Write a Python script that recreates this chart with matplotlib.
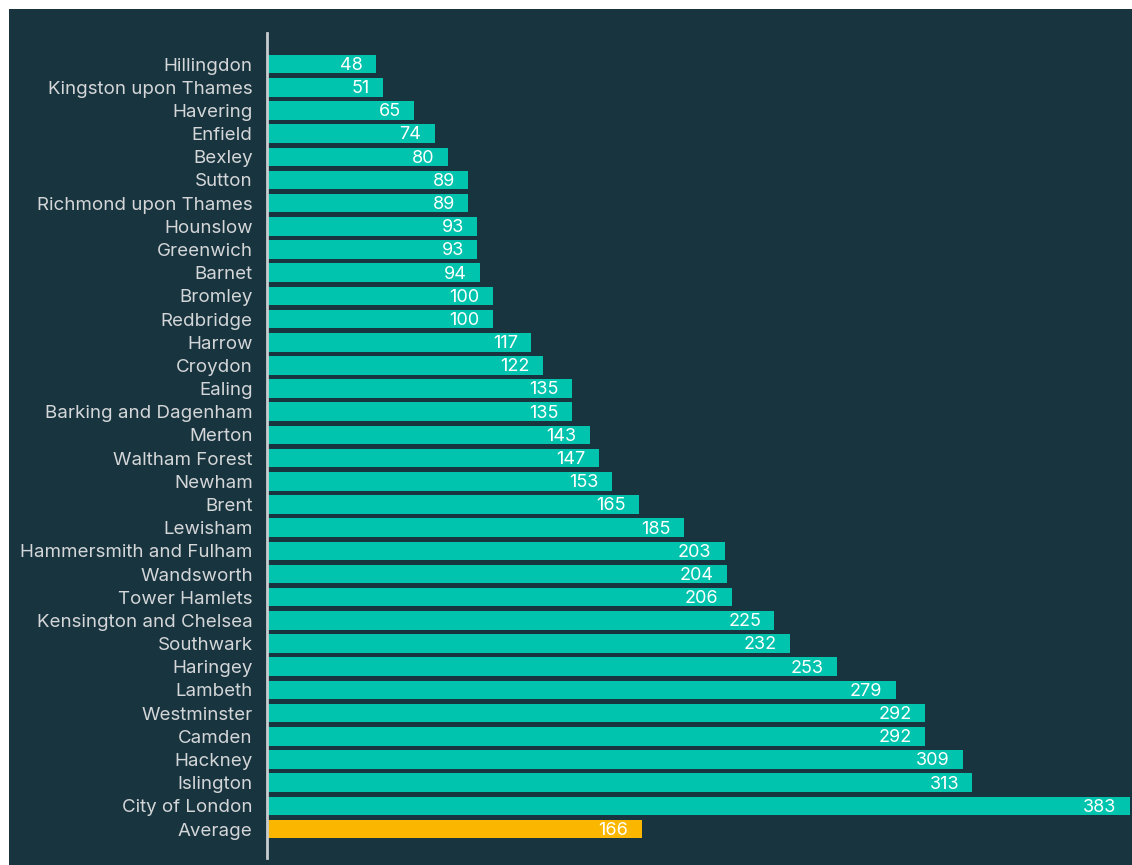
import matplotlib.pyplot as plt
from matplotlib.patches import Rectangle

boroughs = [
    'Hillingdon', 'Kingston upon Thames', 'Havering', 'Enfield', 'Bexley',
    'Sutton', 'Richmond upon Thames', 'Hounslow', 'Greenwich', 'Barnet',
    'Bromley', 'Redbridge', 'Harrow', 'Croydon', 'Ealing',
    'Barking and Dagenham', 'Merton', 'Waltham Forest', 'Newham', 'Brent',
    'Lewisham', 'Hammersmith and Fulham', 'Wandsworth', 'Tower Hamlets',
    'Kensington and Chelsea', 'Southwark', 'Haringey', 'Lambeth',
    'Westminster', 'Camden', 'Hackney', 'Islington', 'City of London',
    'Average',
]
values = [
    48, 51, 65, 74, 80, 89, 89, 93, 93, 94, 100, 100, 117, 122, 135, 135,
    143, 147, 153, 165, 185, 203, 204, 206, 225, 232, 253, 279, 292, 292,
    309, 313, 383, 166,
]

bg = '#17343f'
teal = '#00c4ad'
gold = '#fbb700'

plt.rcParams['font.family'] = ['Inter', 'DejaVu Sans']

W, H = 1132, 865
fig = plt.figure(figsize=(W / 100, H / 100), dpi=100, facecolor='white')
# dark panel leaving a thin white strip on the top and left
fig.patches.append(Rectangle((9 / W, 0), 1 - 9 / W, 1 - 9 / H,
                             transform=fig.transFigure, facecolor=bg,
                             edgecolor='none', zorder=-10))

ax = fig.add_axes([268 / W, 7 / H, 1 - 268 / W, (858 - 33) / H])
ax.set_facecolor('none')

# spine sits just left of the bars
for s in ['top', 'right', 'bottom']:
    ax.spines[s].set_visible(False)
ax.spines['left'].set_position(('outward', 1))
ax.spines['left'].set_color('#c8cccf')
ax.spines['left'].set_linewidth(2)

colors = [gold if b == 'Average' else teal for b in boroughs]
pos = list(range(len(boroughs)))
ax.barh(pos, values, height=0.8, color=colors, edgecolor='none')

for y, v in zip(pos, values):
    ax.annotate(str(v), (v, y), xytext=(-9.5, -1), textcoords='offset points',
                ha='right', va='center', color='white', fontsize=13)

ax.set_xlim(0, 384)
ax.set_ylim(34.25, -1.34)
ax.set_yticks(pos)
ax.set_yticklabels(boroughs, fontsize=13.5, color='#d4d6d8')
ax.tick_params(axis='y', length=0, pad=10)
ax.set_xticks([])

fig.savefig('out.png', dpi=100, facecolor='white')
